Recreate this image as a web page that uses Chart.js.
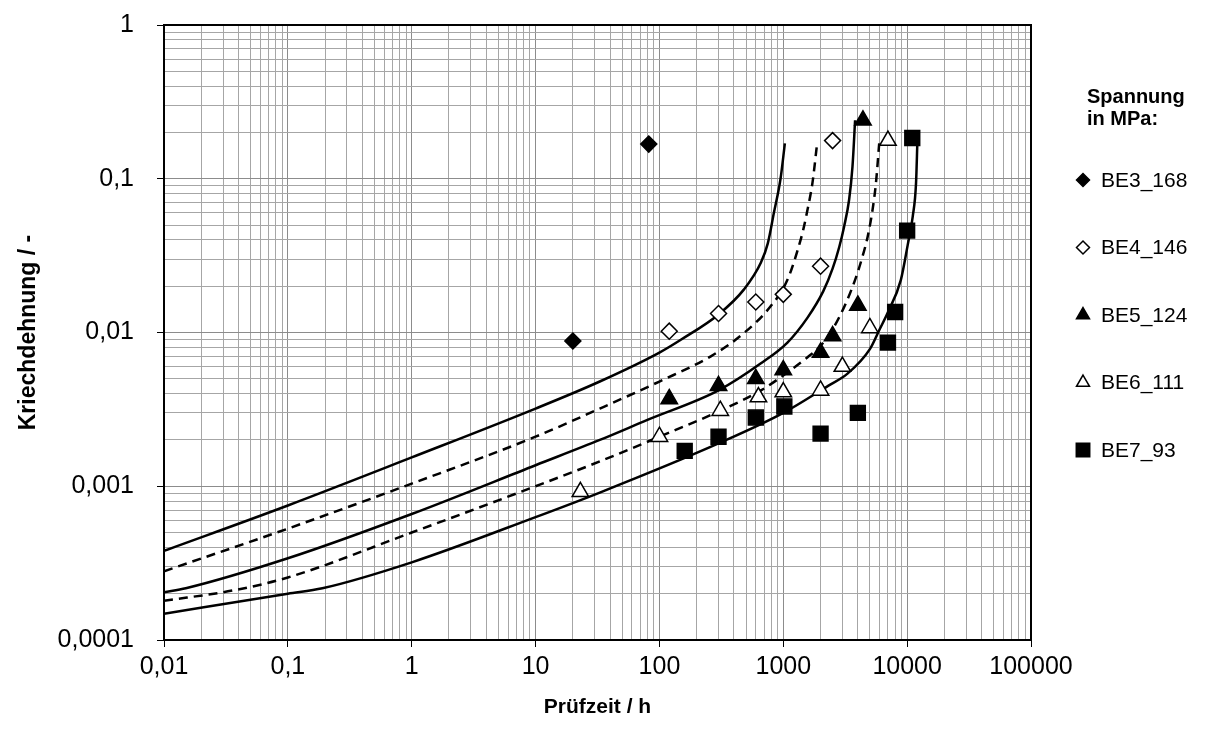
<!DOCTYPE html>
<html lang="de">
<head>
    <meta charset="UTF-8">
    <title>Kriechdehnung über Prüfzeit</title>
    <script src="https://cdn.jsdelivr.net/npm/chart.js"></script>
    <style>
        body {
            margin: 0;
            background: #ffffff;
        }
        .chart-container {
            position: relative;
            width: 1216px;
            height: 744px;
        }
    </style>
</head>
<body>
    <div class="chart-container">
        <canvas id="creepChart"></canvas>
    </div>

    <script>
        // Messpunkte: Prüfzeit in h, Kriechdehnung in -
        const be3Time = [20, 82];
        const be3Strain = [0.0088, 0.168];
        const be4Time = [120, 300, 600, 1000, 2000, 2500];
        const be4Strain = [0.0102, 0.0133, 0.0158, 0.0177, 0.027, 0.177];
        const be5Time = [120, 300, 600, 1000, 2000, 2500, 4000, 4400];
        const be5Strain = [0.0037, 0.0045, 0.005, 0.0057, 0.0074, 0.0095, 0.015, 0.24];
        const be6Time = [23, 100, 310, 630, 1000, 2000, 3000, 5000, 7000];
        const be6Strain = [0.00092, 0.0021, 0.0031, 0.0038, 0.0041, 0.0042, 0.006, 0.0107, 0.177];
        const be7Time = [160, 300, 600, 1020, 2000, 4000, 7000, 8000, 10000, 11000];
        const be7Strain = [0.0017, 0.0021, 0.0028, 0.0033, 0.0022, 0.003, 0.0086, 0.0136, 0.046, 0.184];

        // Kriechkurven
        const fit1Time = [0.01, 0.1, 1, 10, 33, 100, 150, 300, 480, 660, 750, 840, 950, 1030];
        const fit1Strain = [0.00038, 0.00075, 0.00154, 0.0032, 0.0048, 0.0074, 0.0090, 0.0131, 0.019, 0.0285, 0.038, 0.060, 0.10, 0.17];
        const fit2Time = [0.01, 0.1, 1, 10, 33, 100, 260, 480, 790, 1080, 1380, 1470, 1570, 1720, 1870];
        const fit2Strain = [0.00028, 0.00053, 0.00104, 0.0021, 0.0032, 0.0048, 0.0070, 0.0099, 0.0148, 0.022, 0.040, 0.049, 0.063, 0.094, 0.166];
        const fit3Time = [0.01, 0.015, 0.1, 1, 10, 33, 80, 300, 660, 1080, 1570, 2100, 2500, 2830, 3100, 3400, 3620, 3800];
        const fit3Strain = [0.000204, 0.000217, 0.00034, 0.00066, 0.00137, 0.0020, 0.0027, 0.0042, 0.0063, 0.0086, 0.0125, 0.0185, 0.026, 0.036, 0.049, 0.073, 0.12, 0.24];
        const fit4Time = [0.01, 0.036, 0.1, 1, 10, 33, 100, 310, 660, 1080, 1570, 2000, 2500, 3200, 3800, 4300, 4800, 5260, 5600, 5950];
        const fit4Strain = [0.00018, 0.00021, 0.000255, 0.0005, 0.001, 0.00145, 0.0021, 0.0031, 0.0042, 0.0055, 0.0069, 0.0082, 0.0105, 0.0155, 0.022, 0.030, 0.042, 0.063, 0.094, 0.17];
        const fit5Time = [0.01, 0.1, 0.19, 1, 10, 33, 300, 1000, 2300, 3300, 5000, 6000, 6950, 8900, 10100, 11100, 11800, 12100];
        const fit5Strain = [0.000148, 0.0002, 0.000217, 0.00032, 0.00063, 0.00091, 0.0019, 0.003, 0.0045, 0.0054, 0.0078, 0.0105, 0.0134, 0.022, 0.037, 0.057, 0.094, 0.175];

        // Achsen
        const xDecades = [0.01, 0.1, 1, 10, 100, 1000, 10000, 100000];
        const xTickLabels = ['0,01', '0,1', '1', '10', '100', '1000', '10000', '100000'];
        const yDecades = [0.0001, 0.001, 0.01, 0.1, 1];
        const yTickLabels = ['0,0001', '0,001', '0,01', '0,1', '1'];

        const FONT = 'Arial, "Liberation Sans", sans-serif';

        function logGrid(decades) {
            const values = [];
            decades.forEach((d, i) => {
                if (i === decades.length - 1) {
                    values.push(d);
                    return;
                }
                for (let k = 1; k <= 9; k++) values.push(k === 1 ? d : parseFloat((d * k).toPrecision(6)));
            });
            return values;
        }

        function toPoints(xs, ys) {
            return xs.map((x, i) => ({ x: x, y: ys[i] }));
        }

        const markerSets = [
            { label: 'BE3_168', time: be3Time, strain: be3Strain, style: 'rectRot', fill: '#000', radius: 8, legendRadius: 6.5 },
            { label: 'BE4_146', time: be4Time, strain: be4Strain, style: 'rectRot', fill: '#fff', radius: 8, legendRadius: 6.5 },
            { label: 'BE5_124', time: be5Time, strain: be5Strain, style: 'triangle', fill: '#000', radius: 9.5, legendRadius: 7.5 },
            { label: 'BE6_111', time: be6Time, strain: be6Strain, style: 'triangle', fill: '#fff', radius: 9.5, legendRadius: 7.5 },
            { label: 'BE7_93', time: be7Time, strain: be7Strain, style: 'rect', fill: '#000', radius: 10.5, legendRadius: 9.5 }
        ];

        const curves = [
            { time: fit1Time, strain: fit1Strain, dash: [] },
            { time: fit2Time, strain: fit2Strain, dash: [9, 6] },
            { time: fit3Time, strain: fit3Strain, dash: [] },
            { time: fit4Time, strain: fit4Strain, dash: [9, 6] },
            { time: fit5Time, strain: fit5Strain, dash: [] }
        ];

        const datasets = [];
        markerSets.forEach(m => {
            datasets.push({
                label: m.label,
                data: toPoints(m.time, m.strain),
                showLine: false,
                pointStyle: m.style,
                pointRadius: m.radius,
                pointBackgroundColor: m.fill,
                pointBorderColor: '#000',
                pointBorderWidth: 1.5
            });
        });
        curves.forEach((c, i) => {
            datasets.push({
                label: 'Kurve ' + (i + 1),
                data: toPoints(c.time, c.strain),
                showLine: true,
                borderColor: '#000',
                borderWidth: 2.5,
                borderDash: c.dash,
                pointRadius: 0,
                cubicInterpolationMode: 'monotone',
                fill: false
            });
        });

        // Rahmen um die Zeichenfläche
        const frame = {
            id: 'frame',
            afterDatasetsDraw(chart) {
                const { ctx, chartArea: a } = chart;
                ctx.save();
                ctx.strokeStyle = '#000';
                ctx.lineWidth = 2;
                ctx.strokeRect(a.left, a.top, a.right - a.left, a.bottom - a.top);
                ctx.restore();
            }
        };

        // Legende rechts
        const sideLegend = {
            id: 'sideLegend',
            afterDraw(chart) {
                const ctx = chart.ctx;
                ctx.save();
                ctx.fillStyle = '#000';
                ctx.textBaseline = 'middle';
                ctx.textAlign = 'left';
                ctx.font = 'bold 20px ' + FONT;
                ctx.fillText('Spannung', 1087, 97);
                ctx.fillText('in MPa:', 1087, 119);
                ctx.font = '21px ' + FONT;
                markerSets.forEach((m, i) => {
                    const y = 180 + i * 67.5;
                    ctx.fillStyle = m.fill;
                    ctx.strokeStyle = '#000';
                    ctx.lineWidth = 1.5;
                    Chart.helpers.drawPoint(ctx, {
                        pointStyle: m.style,
                        radius: m.legendRadius,
                        rotation: 0,
                        borderWidth: 1.5
                    }, 1083, y);
                    ctx.fillStyle = '#000';
                    ctx.fillText(m.label, 1101, y + 1);
                });
                ctx.restore();
            }
        };

        new Chart(document.getElementById('creepChart'), {
            type: 'scatter',
            data: { datasets: datasets },
            options: {
                responsive: true,
                maintainAspectRatio: false,
                animation: false,
                layout: { padding: { top: 25, right: 185, bottom: 0, left: 0 } },
                plugins: {
                    legend: { display: false },
                    tooltip: { enabled: false }
                },
                scales: {
                    x: {
                        type: 'logarithmic',
                        min: 0.01,
                        max: 100000,
                        afterBuildTicks: scale => {
                            scale.ticks = logGrid(xDecades).map(v => ({ value: v }));
                        },
                        afterFit: scale => { scale.height = 104; },
                        ticks: {
                            autoSkip: false,
                            maxRotation: 0,
                            padding: 5,
                            color: '#000',
                            font: { size: 25, family: FONT },
                            callback: value => {
                                const i = xDecades.indexOf(value);
                                return i >= 0 ? xTickLabels[i] : '';
                            }
                        },
                        grid: {
                            color: ctx => (ctx.tick && xDecades.includes(ctx.tick.value)) ? '#8c8c8c' : '#a6a6a6',
                            tickColor: ctx => (ctx.tick && xDecades.includes(ctx.tick.value)) ? '#000' : 'rgba(0,0,0,0)',
                            tickLength: 7
                        },
                        border: { color: '#000', width: 2 },
                        title: {
                            display: true,
                            text: 'Prüfzeit / h',
                            color: '#000',
                            font: { size: 21, weight: 'bold', family: FONT },
                            padding: { top: 0, bottom: 24 }
                        }
                    },
                    y: {
                        type: 'logarithmic',
                        min: 0.0001,
                        max: 1,
                        afterBuildTicks: scale => {
                            scale.ticks = logGrid(yDecades).map(v => ({ value: v }));
                        },
                        afterFit: scale => {
                            scale.width = 164;
                            scale.paddingTop = 0;
                            scale.paddingBottom = 0;
                        },
                        ticks: {
                            autoSkip: false,
                            padding: 23,
                            color: '#000',
                            font: { size: 25, family: FONT },
                            callback: value => {
                                const i = yDecades.indexOf(value);
                                return i >= 0 ? yTickLabels[i] : '';
                            }
                        },
                        grid: {
                            color: ctx => (ctx.tick && yDecades.includes(ctx.tick.value)) ? '#8c8c8c' : '#a6a6a6',
                            tickColor: ctx => (ctx.tick && yDecades.includes(ctx.tick.value)) ? '#000' : 'rgba(0,0,0,0)',
                            tickLength: 7
                        },
                        border: { color: '#000', width: 2 },
                        title: {
                            display: true,
                            text: 'Kriechdehnung / -',
                            color: '#000',
                            font: { size: 23, weight: 'bold', family: FONT },
                            padding: { top: 15, bottom: 0 }
                        }
                    }
                }
            },
            plugins: [frame, sideLegend]
        });
    </script>
</body>
</html>
